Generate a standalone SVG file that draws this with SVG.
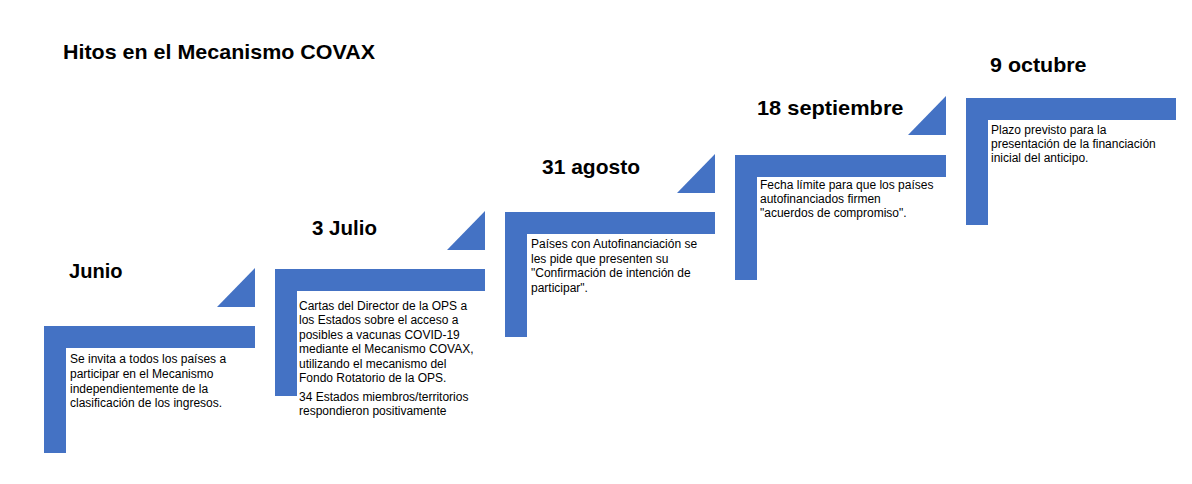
<svg xmlns="http://www.w3.org/2000/svg" width="1192" height="484" viewBox="0 0 1192 484">
<style>
.bar{fill:#4472C4;}
.tri{fill:#4472C4;}
.title{font-family:"Liberation Sans",Arial,sans-serif;font-weight:bold;font-size:21px;fill:#000;}
.date{font-family:"Liberation Sans",Arial,sans-serif;font-weight:bold;font-size:21px;fill:#000;}
.body{font-family:"Liberation Sans",Arial,sans-serif;font-size:12px;fill:#000;}
</style>
<rect width="1192" height="484" fill="#fff"/>
<text class="title" x="63" y="59" textLength="312" lengthAdjust="spacingAndGlyphs">Hitos en el Mecanismo COVAX</text>
<g id="connectors">
<polygon class="tri" points="217,307 255,268 255,307"/>
<polygon class="tri" points="447,250 485,211 485,250"/>
<polygon class="tri" points="677,193 715,154 715,193"/>
<polygon class="tri" points="908,135 946,96 946,135"/>
</g>
<g id="junio">
<path class="bar" d="M44,326 H255 V348 H66 V453 H44 Z"/>
<text class="date" x="69" y="278" textLength="53.5" lengthAdjust="spacingAndGlyphs">Junio</text>
<text class="body" x="70" y="363">Se invita a todos los países a</text>
<text class="body" x="70" y="378">participar en el Mecanismo</text>
<text class="body" x="70" y="392.5">independientemente de la</text>
<text class="body" x="70" y="407">clasificación de los ingresos.</text>
</g>
<g id="julio">
<path class="bar" d="M275,269 H485 V291 H297 V396 H275 Z"/>
<text class="date" x="312" y="235" textLength="65" lengthAdjust="spacingAndGlyphs">3 Julio</text>
<text class="body" x="299" y="309.5">Cartas del Director de la OPS a</text>
<text class="body" x="299" y="324">los Estados sobre el acceso a</text>
<text class="body" x="299" y="338.5">posibles a vacunas COVID-19</text>
<text class="body" x="299" y="353">mediante el Mecanismo COVAX,</text>
<text class="body" x="299" y="367.5">utilizando el mecanismo del</text>
<text class="body" x="299" y="382">Fondo Rotatorio de la OPS.</text>
<text class="body" x="299" y="401">34 Estados miembros/territorios</text>
<text class="body" x="299" y="415">respondieron positivamente</text>
</g>
<g id="agosto">
<path class="bar" d="M505,212 H715 V234 H527 V337 H505 Z"/>
<text class="date" x="542" y="174" textLength="98" lengthAdjust="spacingAndGlyphs">31 agosto</text>
<text class="body" x="531" y="248">Países con Autofinanciación se</text>
<text class="body" x="531" y="262.5">les pide que presenten su</text>
<text class="body" x="531" y="277">"Confirmación de intención de</text>
<text class="body" x="531" y="291.5">participar".</text>
</g>
<g id="septiembre">
<path class="bar" d="M735,155 H946 V177 H757 V280 H735 Z"/>
<text class="date" x="757" y="115" textLength="146.5" lengthAdjust="spacingAndGlyphs">18 septiembre</text>
<text class="body" x="760" y="188.5">Fecha límite para que los países</text>
<text class="body" x="760" y="203">autofinanciados firmen</text>
<text class="body" x="760" y="217">"acuerdos de compromiso".</text>
</g>
<g id="octubre">
<path class="bar" d="M966,98 H1176 V120 H988 V225 H966 Z"/>
<text class="date" x="990" y="72" textLength="96.5" lengthAdjust="spacingAndGlyphs">9 octubre</text>
<text class="body" x="991" y="133.5">Plazo previsto para la</text>
<text class="body" x="991" y="148">presentación de la financiación</text>
<text class="body" x="991" y="162">inicial del anticipo.</text>
</g>
</svg>
